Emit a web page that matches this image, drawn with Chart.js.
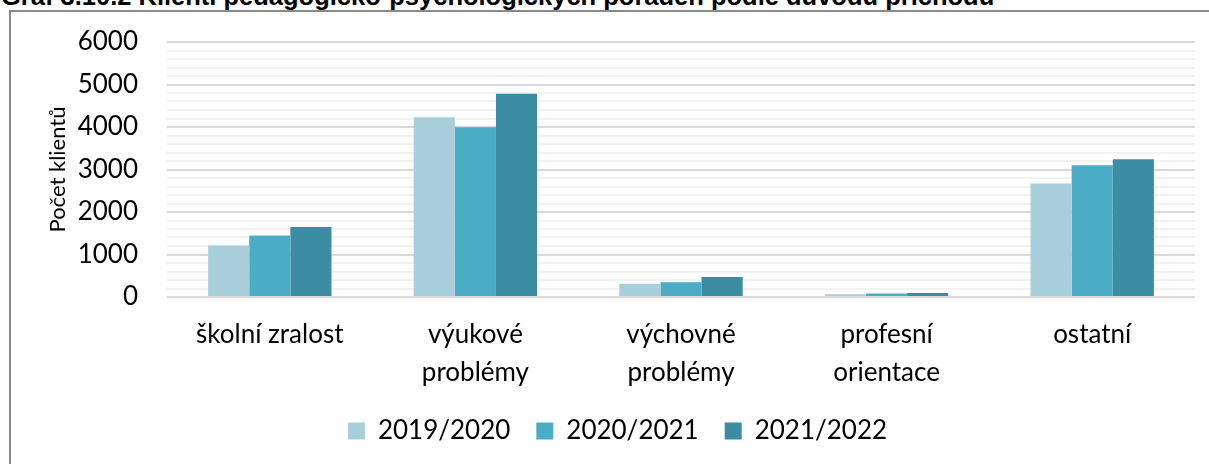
<!DOCTYPE html>
<html>
<head>
<meta charset="utf-8">
<script src="https://cdn.jsdelivr.net/npm/chart.js@4"></script>
<style>
  html, body { margin: 0; padding: 0; background: #fff; overflow: hidden; }
  #wrap { position: relative; width: 1209px; height: 464px; overflow: hidden; }
  #title { position: absolute; left: 1px; top: -17px; font: bold 25.5px 'Liberation Sans', Arial, sans-serif; line-height: 26px; white-space: nowrap; color: #000; }
  #frame { position: absolute; left: 9px; top: 10px; right: -10px; bottom: -10px; border-left: 2px solid #8a8a8a; border-top: 2px solid #8a8a8a; }
  #box { position: absolute; left: 0; top: 0; width: 1209px; height: 464px; }
</style>
</head>
<body>
<div id="wrap">
  <div id="title">Graf 3.10.2 Klienti pedagogicko-psychologických poraden podle důvodu příchodu</div>
  <div id="frame"></div>
  <div id="box"><canvas id="chart"></canvas></div>
</div>
<script>
const categories = ['školní zralost', ['výukové', 'problémy'], ['výchovné', 'problémy'], ['profesní', 'orientace'], 'ostatní'];
const seriesNames = ['2019/2020', '2020/2021', '2021/2022'];
const values2019 = [1210, 4230, 310, 65, 2670];
const values2020 = [1445, 3995, 345, 80, 3100];
const values2021 = [1650, 4785, 470, 95, 3240];
const seriesColors = ['#a9cedc', '#4bacc6', '#3c8ca4'];

const font = "Lato, 'Open Sans', sans-serif";

new Chart(document.getElementById('chart'), {
    type: 'bar',
    data: {
        labels: categories,
        datasets: [values2019, values2020, values2021].map((vals, i) => ({
            label: seriesNames[i],
            data: vals,
            backgroundColor: seriesColors[i],
            categoryPercentage: 0.6,
            barPercentage: 1.0
        }))
    },
    options: {
        responsive: true,
        maintainAspectRatio: false,
        animation: false,
        layout: { padding: { left: 40, right: 14, top: 36, bottom: 10 } },
        scales: {
            x: {
                grid: { display: false },
                border: { display: false },
                ticks: { color: '#000', font: { family: font, size: 26, lineHeight: 1.45 }, padding: 11, maxRotation: 0 },
                afterFit: scale => { scale.height = 95; }
            },
            y: {
                min: 0,
                max: 6000,
                border: { display: false },
                grid: {
                    drawTicks: false,
                    lineWidth: 2,
                    color: ctx => (ctx.tick && ctx.tick.value % 1000 === 0) ? '#d9d9d9' : '#f2f2f2'
                },
                ticks: {
                    stepSize: 200,
                    autoSkip: false,
                    color: '#000',
                    padding: 29,
                    font: { family: font, size: 26, lineHeight: 1.0 },
                    callback: v => (v % 1000 === 0 ? v : '')
                },
                title: {
                    display: true,
                    text: 'Počet klientů',
                    color: '#000',
                    font: { family: font, size: 22 },
                    padding: { top: 5, bottom: 0 }
                },
                afterFit: scale => { scale.width = 127; }
            }
        },
        plugins: {
            legend: {
                position: 'bottom',
                labels: {
                    color: '#000',
                    font: { family: font, size: 26 },
                    boxWidth: 17,
                    boxHeight: 17,
                    padding: 26
                }
            },
            tooltip: { enabled: false }
        }
    }
});
</script>
</body>
</html>
